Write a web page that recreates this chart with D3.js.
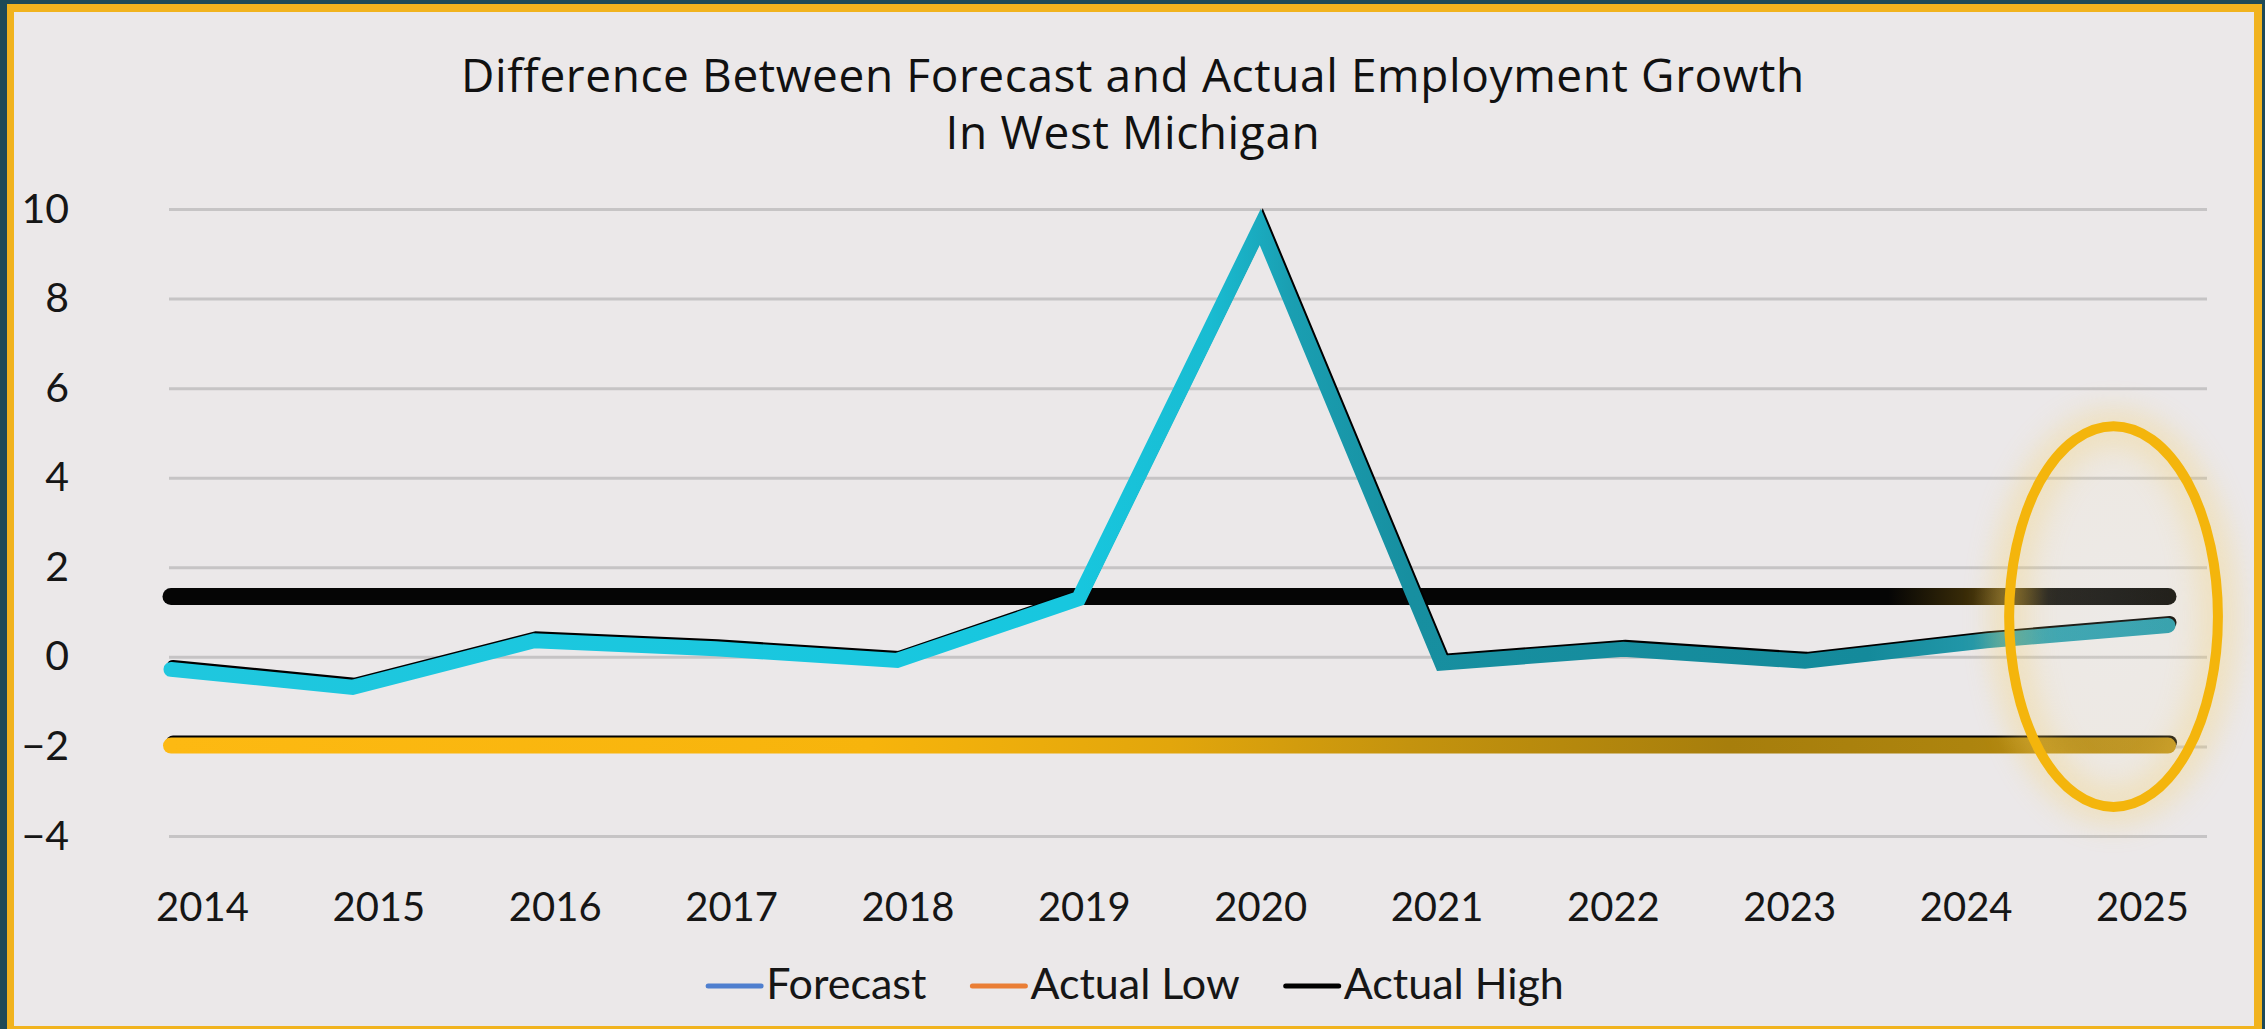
<!DOCTYPE html>
<html>
<head>
<meta charset="utf-8">
<script src="https://cdn.jsdelivr.net/npm/d3@7"></script>
<style>
  html, body { margin: 0; padding: 0; background: #1e4a57; }
  svg { display: block; }
</style>
</head>
<body>
<svg id="chart" width="2265" height="1029"></svg>
<script>
// ---------- data ----------
const years = ["2014","2015","2016","2017","2018","2019","2020","2021","2022","2023","2024","2025"];
const forecast   = [-0.28, -0.68, 0.36, 0.18, -0.08, 1.3, 9.6, -0.14, 0.17, -0.1, 0.36, 0.7];
const actualLow  = [-1.98, -1.98, -1.98, -1.98, -1.98, -1.98, -1.98, -1.98, -1.98, -1.98, -1.98, -1.98];
const actualHigh = [1.35, 1.35, 1.35, 1.35, 1.35, 1.35, 1.35, 1.35, 1.35, 1.35, 1.35, 1.35];
const yTicks = [-4, -2, 0, 2, 4, 6, 8, 10];
const titleLines = ["Difference Between Forecast and Actual Employment Growth", "In West Michigan"];
const legendNames = ["Forecast", "Actual Low", "Actual High"];
const legendColors = ["#4f7fcf", "#ea7e35", "#000000"];

// ---------- layout ----------
const W = 2265, H = 1029;
const svg = d3.select("#chart");
const defs = svg.append("defs");

// frame
svg.append("rect").attr("x", 0).attr("y", 0).attr("width", W).attr("height", H).attr("fill", "#1e4a57");
svg.append("rect").attr("x", 7).attr("y", 4).attr("width", 2255).attr("height", 1040).attr("fill", "#f1b31e");
svg.append("rect").attr("x", 14).attr("y", 12).attr("width", 2240).attr("height", 1014).attr("fill", "#ebe8e9");

const gridX0 = 169, gridX1 = 2207;
const x = d3.scalePoint().domain(years).range([171, 2168]);
const xLabel = d3.scalePoint().domain(years).range([202, 2142]);
const y = d3.scaleLinear().domain([-4, 10]).range([836, 209]);

// gridlines + y labels
const yAxis = svg.append("g")
  .attr("transform", `translate(${gridX0},0)`)
  .call(d3.axisLeft(y).tickValues(yTicks).tickFormat(d3.format("d"))
        .tickSizeInner(-(gridX1 - gridX0)).tickSizeOuter(0).tickPadding(100));
yAxis.select(".domain").remove();
yAxis.selectAll(".tick line").attr("stroke", "#c6c4c5").attr("stroke-width", 3);
yAxis.selectAll(".tick text")
  .attr("font-family", "Lato, 'Open Sans', sans-serif")
  .attr("font-size", 41).attr("fill", "#161616").attr("dy", "0.32em");

// x labels
const xAxis = svg.append("g")
  .attr("transform", "translate(0,921)")
  .call(d3.axisBottom(xLabel).tickSize(0).tickPadding(0));
xAxis.select(".domain").remove();
xAxis.selectAll(".tick text")
  .attr("y", 0).attr("dy", 0)
  .attr("font-family", "Lato, 'Open Sans', sans-serif")
  .attr("font-size", 40).attr("fill", "#161616");

// gradients
function hGrad(id, stops) {
  const g = defs.append("linearGradient").attr("id", id)
    .attr("gradientUnits", "userSpaceOnUse")
    .attr("x1", x(years[0])).attr("x2", x(years[years.length - 1]))
    .attr("y1", 0).attr("y2", 0);
  stops.forEach(s => g.append("stop").attr("offset", s[0]).attr("stop-color", s[1]));
}
hGrad("gradCyan", [[0, "#1fc7de"], [0.45, "#17c7df"], [0.52, "#19bcd2"], [0.56, "#1a9fb2"], [0.62, "#178fa0"], [0.85, "#148a9b"], [0.93, "#2a9eb0"], [1, "#1f98ab"]]);
hGrad("gradLow", [[0, "#fdb912"], [0.35, "#f7b40c"], [0.5, "#e2a60c"], [0.62, "#c4930e"], [0.78, "#a77e0c"], [0.9, "#ad840e"], [1, "#b98c12"]]);
hGrad("gradHigh", [[0, "#050505"], [0.86, "#050505"], [0.9, "#3a2c08"], [0.92, "#5a4510"], [0.94, "#111"], [1, "#050505"]]);

const line = d3.line().x((d, i) => x(years[i])).y(d => y(d));

function drawSeries(values, stroke, width, shadow) {
  if (shadow) {
    svg.append("path").attr("d", line(values))
      .attr("fill", "none").attr("stroke", "#000").attr("stroke-width", width - 2)
      .attr("stroke-linejoin", "miter").attr("stroke-linecap", "round")
      .attr("transform", "translate(2,-3)");
  }
  svg.append("path").attr("d", line(values))
    .attr("fill", "none").attr("stroke", stroke).attr("stroke-width", width)
    .attr("stroke-linejoin", "miter").attr("stroke-miterlimit", 10).attr("stroke-linecap", "round");
}

drawSeries(actualLow, "url(#gradLow)", 16, true);
drawSeries(actualHigh, "url(#gradHigh)", 17, false);
drawSeries(forecast, "url(#gradCyan)", 15, true);

// highlight ellipse (positioned from the scales)
const step = x.step();
const ecx = x("2024") + 0.7 * step, ecy = y(0.9);
const erx = 0.575 * step, ery = y(0) - y(4.25);
const glowF = defs.append("filter").attr("id", "glow").attr("x", "-50%").attr("y", "-50%").attr("width", "200%").attr("height", "200%");
glowF.append("feGaussianBlur").attr("stdDeviation", 16);
const rg = defs.append("radialGradient").attr("id", "haze");
rg.append("stop").attr("offset", 0).attr("stop-color", "#fff6d8").attr("stop-opacity", 0.12);
rg.append("stop").attr("offset", 0.8).attr("stop-color", "#fbe9b0").attr("stop-opacity", 0.12);
rg.append("stop").attr("offset", 1).attr("stop-color", "#fbe9b0").attr("stop-opacity", 0);
svg.append("ellipse").attr("cx", ecx).attr("cy", ecy).attr("rx", erx * 1.35).attr("ry", ery * 1.15)
  .attr("fill", "url(#haze)");
svg.append("ellipse").attr("cx", ecx).attr("cy", ecy).attr("rx", erx).attr("ry", ery)
  .attr("fill", "none").attr("stroke", "#f7c640").attr("stroke-width", 30).attr("opacity", 0.28)
  .attr("filter", "url(#glow)");
svg.append("ellipse").attr("cx", ecx).attr("cy", ecy).attr("rx", erx).attr("ry", ery)
  .attr("fill", "none").attr("stroke", "#f4b50c").attr("stroke-width", 10);

// title
const title = svg.append("text").attr("text-anchor", "middle")
  .attr("font-family", "'Open Sans', Roboto, sans-serif").attr("font-size", 46)
  .attr("letter-spacing", 0.6).attr("fill", "#111");
titleLines.forEach((t, i) => {
  title.append("tspan").attr("x", 1133).attr("y", 92 + i * 57).text(t);
});

// legend
const legend = svg.append("g");
let lx = 0;
legendNames.forEach((name, i) => {
  const g = legend.append("g").attr("transform", `translate(${lx},0)`);
  g.append("line").attr("x1", 0).attr("x2", 53).attr("y1", -13).attr("y2", -13)
    .attr("stroke", legendColors[i]).attr("stroke-width", 5).attr("stroke-linecap", "round");
  const t = g.append("text").attr("x", 58).attr("y", 0)
    .attr("font-family", "Lato, 'Open Sans', sans-serif").attr("font-size", 43)
    .attr("fill", "#161616").text(name);
  lx += 58 + t.node().getComputedTextLength() + 46;
});
const legW = lx - 46;
legend.attr("transform", `translate(${1136 - legW / 2},999)`);
</script>
</body>
</html>
